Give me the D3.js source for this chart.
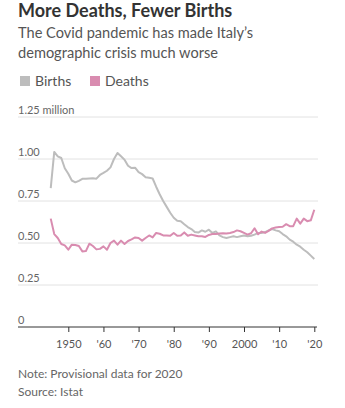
<!DOCTYPE html>
<html><head><meta charset="utf-8">
<script src="https://cdn.jsdelivr.net/npm/d3@7"></script>
<style>
body{margin:0;background:#fff;}
svg text{font-family:Lato,"Noto Sans",sans-serif;}
</style></head>
<body><svg id="c" width="345" height="408"></svg>
<script>
const years = d3.range(1945, 2021);
const births = [0.827,1.042,1.016,1.006,0.945,0.912,0.872,0.861,0.870,0.882,0.882,0.884,0.885,0.883,0.905,0.917,0.930,0.950,1.000,1.036,1.016,0.996,0.960,0.946,0.948,0.922,0.910,0.892,0.888,0.884,0.835,0.790,0.750,0.715,0.680,0.650,0.632,0.630,0.612,0.595,0.583,0.565,0.562,0.575,0.567,0.579,0.560,0.569,0.545,0.535,0.530,0.535,0.540,0.535,0.540,0.545,0.540,0.543,0.550,0.560,0.560,0.565,0.575,0.583,0.575,0.570,0.553,0.540,0.520,0.508,0.490,0.478,0.460,0.445,0.425,0.405];
const deaths = [0.645,0.553,0.530,0.494,0.486,0.460,0.490,0.488,0.482,0.450,0.452,0.496,0.482,0.462,0.465,0.480,0.460,0.500,0.514,0.490,0.514,0.494,0.512,0.522,0.533,0.530,0.514,0.530,0.545,0.533,0.560,0.555,0.545,0.545,0.543,0.560,0.543,0.545,0.563,0.543,0.550,0.545,0.540,0.540,0.536,0.548,0.553,0.553,0.556,0.558,0.556,0.560,0.565,0.575,0.570,0.560,0.550,0.558,0.588,0.552,0.568,0.560,0.572,0.587,0.592,0.595,0.597,0.612,0.600,0.600,0.645,0.615,0.645,0.630,0.635,0.698];
const yTicks = [0,0.25,0.5,0.75,1.0,1.25];
const yTickLabels = ["0","0.25","0.50","0.75","1.00","1.25 million"];
const xTicks = [1950,1960,1970,1980,1990,2000,2010,2020];
const xTickLabels = ["1950","'60","'70","'80","'90","2000","'10","'20"];
const seriesNames = ["Births","Deaths"];
const colors = ["#bdbdbd","#d98cb0"];

const svg = d3.select("#c");
const mLeft = 18, mRight = 318, mTop = 117, mBottom = 327;
const x = d3.scaleLinear().domain([1950,2020]).range([68.3,314.3]);
const y = d3.scaleLinear().domain([0,1.25]).range([mBottom, mTop]);

svg.append("text").attr("x",18).attr("y",17).attr("font-size",18).attr("font-weight",700).attr("fill","#333").text("More Deaths, Fewer Births");
svg.append("text").attr("x",18).attr("y",38).attr("font-size",14.6).attr("fill","#555").text("The Covid pandemic has made Italy\u2019s");
svg.append("text").attr("x",18).attr("y",58).attr("font-size",14.6).attr("fill","#555").text("demographic crisis much worse");

const leg = svg.append("g");
const legX = [20, 90];
seriesNames.forEach((n,i)=>{
  leg.append("rect").attr("x",legX[i]).attr("y",76).attr("width",10).attr("height",10).attr("fill",colors[i]);
  leg.append("text").attr("x",legX[i]+15).attr("y",86).attr("font-size",14).attr("fill","#555").text(n);
});

const g = svg.append("g");
yTicks.forEach((t,i)=>{
  if(t>0) g.append("line").attr("x1",mLeft).attr("x2",mRight).attr("y1",y(t)).attr("y2",y(t)).attr("stroke","#e2e2e2").attr("stroke-width",1);
  g.append("text").attr("x",mLeft).attr("y",y(t)-3).attr("font-size",11).attr("fill","#666").text(yTickLabels[i]);
});

const xAxis = d3.axisBottom(x).tickValues(xTicks).tickSize(5).tickSizeOuter(0).tickFormat((d,i)=>xTickLabels[i]);
const ax = svg.append("g").attr("transform",`translate(0,${mBottom})`).call(xAxis);
ax.select(".domain").remove();
ax.append("line").attr("x1",mLeft).attr("x2",mRight-1).attr("y1",0).attr("y2",0).attr("stroke","#333");
ax.selectAll(".tick line").attr("stroke","#333");
ax.selectAll(".tick text").attr("font-size",11).attr("fill","#555").attr("dy",0).attr("y",21).style("font-family","Lato,'Noto Sans',sans-serif");

const line = d3.line().x((d,i)=>x(years[i])).y(d=>y(d));
[births,deaths].forEach((s,i)=>{
  svg.append("path").datum(s).attr("d",line).attr("fill","none").attr("stroke",colors[i]).attr("stroke-width",2).attr("stroke-linejoin","round");
});

svg.append("text").attr("x",18).attr("y",378).attr("font-size",12).attr("fill","#666").text("Note: Provisional data for 2020");
svg.append("text").attr("x",18).attr("y",396).attr("font-size",12).attr("fill","#666").text("Source: Istat");
</script></body></html>
